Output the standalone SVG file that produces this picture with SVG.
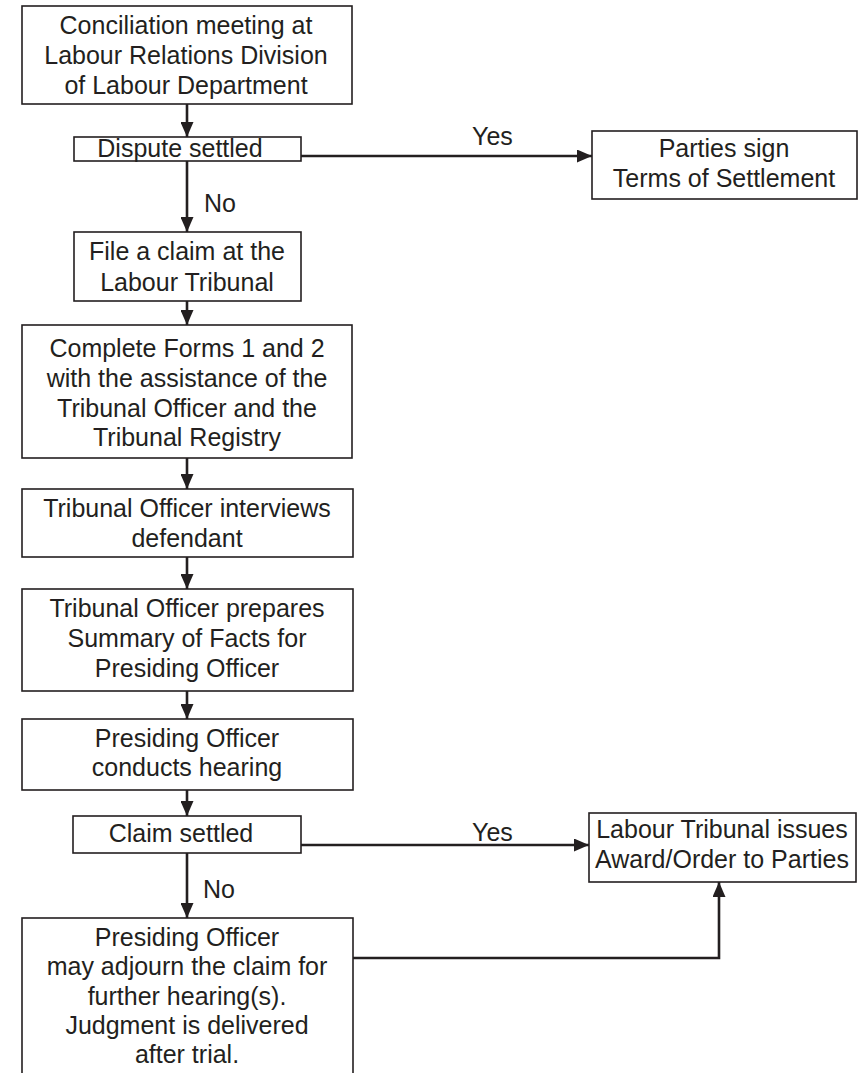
<svg xmlns="http://www.w3.org/2000/svg" width="868" height="1073" viewBox="0 0 868 1073">
<style>
.box{fill:#fff;stroke:#231f20;stroke-width:1.6}
.t{font-family:"Liberation Sans",Arial,sans-serif;font-size:25px;fill:#231f20;text-anchor:middle}
.l{font-family:"Liberation Sans",Arial,sans-serif;font-size:25px;fill:#231f20}
.c{fill:none;stroke:#231f20;stroke-width:2.6}
</style>
<defs>
<marker id="ah" markerUnits="userSpaceOnUse" markerWidth="16" markerHeight="13" refX="15" refY="6.5" orient="auto">
<path d="M0,0 L15,6.5 L0,13 z" fill="#231f20"/>
</marker>
</defs>
<rect width="868" height="1073" fill="#fff"/>
<g id="connectors">
<line class="c" x1="187" y1="104" x2="187" y2="137" marker-end="url(#ah)"/>
<line class="c" x1="301" y1="156" x2="592" y2="156" marker-end="url(#ah)"/>
<line class="c" x1="187" y1="161" x2="187" y2="232" marker-end="url(#ah)"/>
<line class="c" x1="187" y1="301" x2="187" y2="325" marker-end="url(#ah)"/>
<line class="c" x1="187" y1="458" x2="187" y2="489" marker-end="url(#ah)"/>
<line class="c" x1="187" y1="557" x2="187" y2="589" marker-end="url(#ah)"/>
<line class="c" x1="187" y1="691" x2="187" y2="719" marker-end="url(#ah)"/>
<line class="c" x1="187" y1="790" x2="187" y2="816" marker-end="url(#ah)"/>
<line class="c" x1="301" y1="845" x2="589" y2="845" marker-end="url(#ah)"/>
<line class="c" x1="187" y1="853" x2="187" y2="918" marker-end="url(#ah)"/>
<polyline class="c" points="353,958 719,958 719,882" marker-end="url(#ah)"/>
<text class="l" x="204" y="212">No</text>
<text class="l" x="472" y="145">Yes</text>
<text class="l" x="203" y="898">No</text>
<text class="l" x="472" y="841">Yes</text>
</g>
<g id="n1">
<rect class="box" x="22" y="6" width="330" height="98"/>
<text class="t" x="186" y="34">Conciliation meeting at</text>
<text class="t" x="186" y="64">Labour Relations Division</text>
<text class="t" x="186" y="94">of Labour Department</text>
</g>
<g id="n2">
<rect class="box" x="74" y="137" width="227" height="24"/>
<text class="t" x="180" y="157">Dispute settled</text>
</g>
<g id="n3">
<rect class="box" x="592" y="131" width="265" height="68"/>
<text class="t" x="724" y="157">Parties sign</text>
<text class="t" x="724" y="187">Terms of Settlement</text>
</g>
<g id="n4">
<rect class="box" x="74" y="232" width="227" height="69"/>
<text class="t" x="187" y="260">File a claim at the</text>
<text class="t" x="187" y="291">Labour Tribunal</text>
</g>
<g id="n5">
<rect class="box" x="22" y="325" width="330" height="133"/>
<text class="t" x="187" y="357">Complete Forms 1 and 2</text>
<text class="t" x="187" y="387">with the assistance of the</text>
<text class="t" x="187" y="417">Tribunal Officer and the</text>
<text class="t" x="187" y="446">Tribunal Registry</text>
</g>
<g id="n6">
<rect class="box" x="22" y="489" width="331" height="68"/>
<text class="t" x="187" y="517">Tribunal Officer interviews</text>
<text class="t" x="187" y="547">defendant</text>
</g>
<g id="n7">
<rect class="box" x="22" y="589" width="331" height="102"/>
<text class="t" x="187" y="617">Tribunal Officer prepares</text>
<text class="t" x="187" y="647">Summary of Facts for</text>
<text class="t" x="187" y="677">Presiding Officer</text>
</g>
<g id="n8">
<rect class="box" x="22" y="719" width="331" height="71"/>
<text class="t" x="187" y="747">Presiding Officer</text>
<text class="t" x="187" y="776">conducts hearing</text>
</g>
<g id="n9">
<rect class="box" x="73" y="816" width="228" height="37"/>
<text class="t" x="181" y="842">Claim settled</text>
</g>
<g id="n10">
<rect class="box" x="589" y="813" width="267" height="69"/>
<text class="t" x="722" y="838">Labour Tribunal issues</text>
<text class="t" x="722" y="868">Award/Order to Parties</text>
</g>
<g id="n11">
<rect class="box" x="22" y="918" width="331" height="160"/>
<text class="t" x="187" y="946">Presiding Officer</text>
<text class="t" x="187" y="975">may adjourn the claim for</text>
<text class="t" x="187" y="1005">further hearing(s).</text>
<text class="t" x="187" y="1034">Judgment is delivered</text>
<text class="t" x="187" y="1063">after trial.</text>
</g>
</svg>
